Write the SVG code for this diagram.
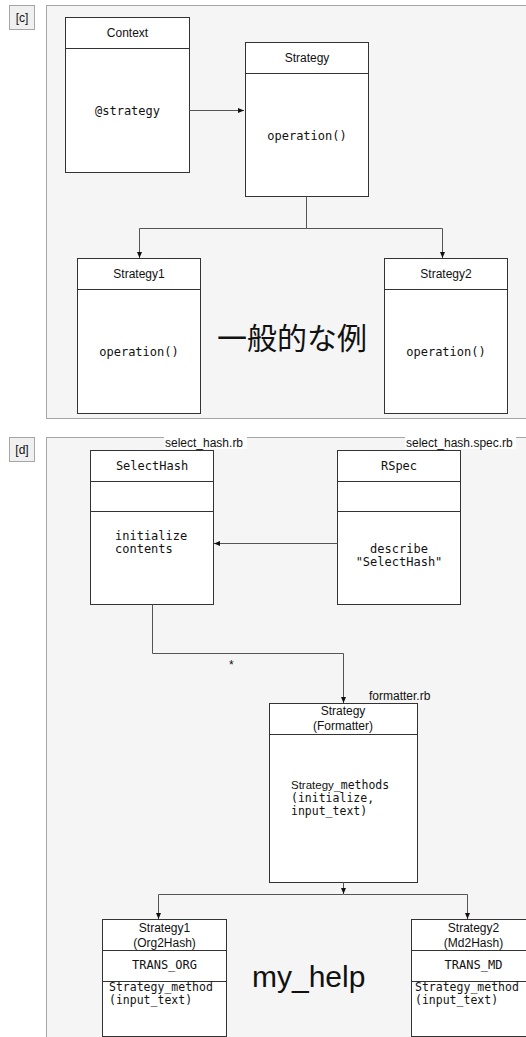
<svg xmlns="http://www.w3.org/2000/svg" width="526" height="1037" viewBox="0 0 526 1037">
<style>
.panel{fill:#f5f5f5;stroke:#a6a6a6;stroke-width:1}
.tag{fill:#f0f0f0;stroke:#a6a6a6;stroke-width:1}
.box{fill:#ffffff;stroke:#333333;stroke-width:1}
.sep{stroke:#333333;stroke-width:1;fill:none}
.edge{stroke:#555555;stroke-width:1;fill:none}
.sans{font-family:"Liberation Sans",Arial,sans-serif;font-size:12px;fill:#111}
.mono{font-family:"DejaVu Sans Mono","Liberation Mono",monospace;font-size:12px;fill:#111}
.ml{font-size:11.5px}
.big{font-family:"Liberation Sans","Noto Sans CJK JP",sans-serif;font-size:30px;fill:#111}
.mid{text-anchor:middle}
</style>
<defs>
<marker id="arr" viewBox="0 0 6 6" refX="6" refY="3" markerWidth="6" markerHeight="6" markerUnits="userSpaceOnUse" orient="auto">
<path d="M0,0.5 L6,3 L0,5.5 Z" fill="#111"/>
</marker>
</defs>
<rect width="526" height="1037" fill="#ffffff"/>

<!-- panel c -->
<g id="panel-c">
<rect class="tag" x="9.5" y="5.5" width="25" height="24"/>
<text class="sans mid" x="22" y="22">[c]</text>
<rect class="panel" x="46.5" y="5.5" width="490" height="413"/>
</g>

<g id="context">
<rect class="box" x="65.5" y="17.5" width="124" height="155"/>
<line class="sep" x1="65.5" y1="48.5" x2="189.5" y2="48.5"/>
<text class="sans mid" x="127.5" y="37">Context</text>
<text class="mono mid" x="127.5" y="115">@strategy</text>
</g>
<g id="strategy">
<rect class="box" x="245.5" y="42.5" width="123" height="154"/>
<line class="sep" x1="245.5" y1="73.5" x2="368.5" y2="73.5"/>
<text class="sans mid" x="307" y="62">Strategy</text>
<text class="mono mid" x="307" y="140">operation()</text>
</g>
<g id="strategy1">
<rect class="box" x="77.5" y="258.5" width="123" height="155"/>
<line class="sep" x1="77.5" y1="289.5" x2="200.5" y2="289.5"/>
<text class="sans mid" x="139" y="278">Strategy1</text>
<text class="mono mid" x="139" y="356">operation()</text>
</g>
<g id="strategy2">
<rect class="box" x="384.5" y="258.5" width="123" height="155"/>
<line class="sep" x1="384.5" y1="289.5" x2="507.5" y2="289.5"/>
<text class="sans mid" x="446" y="278">Strategy2</text>
<text class="mono mid" x="446" y="356">operation()</text>
</g>
<g id="title-c">
<text class="big mid" x="292" y="349">一般的な例</text>
</g>

<!-- panel d -->
<g id="panel-d">
<rect class="tag" x="9.5" y="437.5" width="25" height="24"/>
<text class="sans mid" x="22" y="454">[d]</text>
<rect class="panel" x="46.5" y="437.5" width="490" height="610"/>
<rect x="164" y="436" width="83" height="13" fill="#ffffff"/>
<text class="sans" x="165" y="447">select_hash.rb</text>
<rect x="405" y="436" width="111" height="13" fill="#ffffff"/>
<text class="sans" x="406" y="447">select_hash.spec.rb</text>
<text class="sans" x="369" y="700">formatter.rb</text>
</g>

<g id="selecthash">
<rect class="box" x="90.5" y="450.5" width="123" height="154"/>
<line class="sep" x1="90.5" y1="481.5" x2="213.5" y2="481.5"/>
<line class="sep" x1="90.5" y1="511.5" x2="213.5" y2="511.5"/>
<text class="mono mid" x="152" y="470">SelectHash</text>
<text class="mono" x="115" y="540">initialize</text>
<text class="mono" x="115" y="553">contents</text>
</g>
<g id="rspec">
<rect class="box" x="337.5" y="450.5" width="123" height="154"/>
<line class="sep" x1="337.5" y1="481.5" x2="460.5" y2="481.5"/>
<line class="sep" x1="337.5" y1="511.5" x2="460.5" y2="511.5"/>
<text class="mono mid" x="399" y="553">describe</text>
<text class="mono mid" x="399" y="566">"SelectHash"</text>
<text class="mono mid" x="399" y="470">RSpec</text>
</g>
<g id="formatter">
<rect class="box" x="269.5" y="703.5" width="148" height="179"/>
<line class="sep" x1="269.5" y1="734.5" x2="417.5" y2="734.5"/>
<text class="sans mid" x="343" y="715">Strategy</text>
<text class="sans mid" x="343" y="730">(Formatter)</text>
<text class="mono ml" x="291" y="789"><tspan font-family="Liberation Sans, Arial, sans-serif">Strategy</tspan>_methods</text>
<text class="mono ml" x="291" y="802">(initialize,</text>
<text class="mono ml" x="291" y="815">input_text)</text>
</g>
<g id="org2hash">
<rect class="box" x="102.5" y="919.5" width="124" height="117"/>
<line class="sep" x1="102.5" y1="950.5" x2="226.5" y2="950.5"/>
<line class="sep" x1="102.5" y1="981.5" x2="226.5" y2="981.5"/>
<text class="sans mid" x="164.5" y="932">Strategy1</text>
<text class="sans mid" x="164.5" y="947">(Org2Hash)</text>
<text class="mono mid" x="164.5" y="969">TRANS_ORG</text>
<text class="mono ml" x="109" y="991">Strategy_method</text>
<text class="mono ml" x="109" y="1004">(input_text)</text>
</g>
<g id="md2hash">
<rect class="box" x="411.5" y="919.5" width="124" height="117"/>
<line class="sep" x1="411.5" y1="950.5" x2="535.5" y2="950.5"/>
<line class="sep" x1="411.5" y1="981.5" x2="535.5" y2="981.5"/>
<text class="sans mid" x="473.5" y="932">Strategy2</text>
<text class="sans mid" x="473.5" y="947">(Md2Hash)</text>
<text class="mono mid" x="473.5" y="969">TRANS_MD</text>
<text class="mono ml" x="415" y="991">Strategy_method</text>
<text class="mono ml" x="415" y="1004">(input_text)</text>
</g>
<g id="title-d">
<text class="big" x="252" y="987">my_help</text>
</g>

<g id="connectors">
<path class="edge" d="M189.5,110.5 H244" marker-end="url(#arr)"/>
<path class="edge" d="M306.5,196.5 V228.5 H139.5 V258" marker-end="url(#arr)"/>
<path class="edge" d="M306.5,228.5 H442.5 V258" marker-end="url(#arr)"/>
<path class="edge" d="M337.5,543.5 H214" marker-end="url(#arr)"/>
<path class="edge" d="M152.5,604.5 V653.5 H343.5 V703" marker-end="url(#arr)"/>
<text class="sans" x="229" y="669">*</text>
<path class="edge" d="M343.5,882.5 V894" marker-end="url(#arr)"/>
<path class="edge" d="M343.5,894.5 H158.5 V919" marker-end="url(#arr)"/>
<path class="edge" d="M343.5,894.5 H467.5 V919" marker-end="url(#arr)"/>
</g>
</svg>
